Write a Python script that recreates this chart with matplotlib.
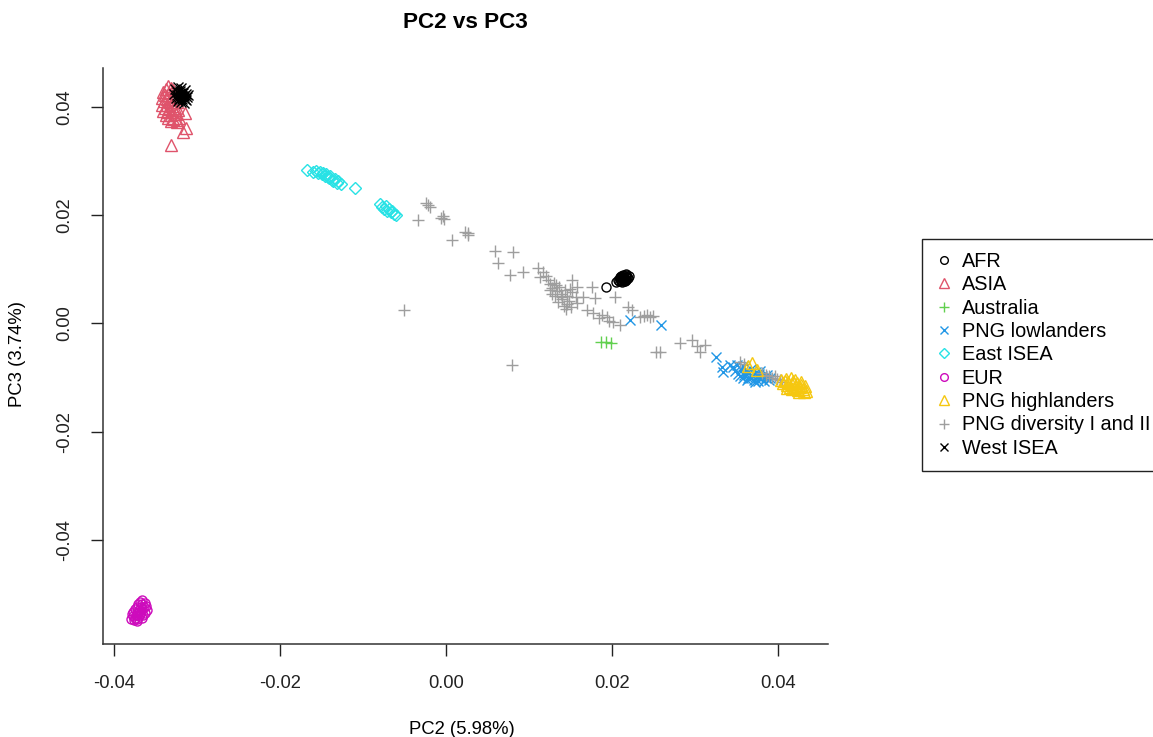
import matplotlib

matplotlib.use("Agg")
import matplotlib.pyplot as plt
from matplotlib.lines import Line2D

plt.rcParams["font.family"] = ["Liberation Sans", "DejaVu Sans"]

# group labels, in legend order
groups = ["AFR", "ASIA", "Australia", "PNG lowlanders", "East ISEA", "EUR",
          "PNG highlanders", "PNG diversity I and II", "West ISEA"]

afr_pc2 = [0.0193, 0.0205, 0.0207, 0.0208, 0.0209, 0.0210, 0.0210, 0.0211, 0.0212, 0.0212,
           0.0213, 0.0214, 0.0214, 0.0215, 0.0216, 0.0216, 0.0217, 0.0218, 0.0219, 0.0220,
           0.0211, 0.0213, 0.0209, 0.0215, 0.0217]
afr_pc3 = [0.0067, 0.0077, 0.0080, 0.0078, 0.0082, 0.0079, 0.0084, 0.0081, 0.0077, 0.0085,
           0.0083, 0.0079, 0.0087, 0.0082, 0.0085, 0.0089, 0.0080, 0.0086, 0.0083, 0.0088,
           0.0088, 0.0090, 0.0086, 0.0078, 0.0091]

asia_pc2 = [-0.0335, -0.0332, -0.0338, -0.0329, -0.0341, -0.0334, -0.0326, -0.0339, -0.0331,
            -0.0342, -0.0336, -0.0328, -0.0340, -0.0333, -0.0325, -0.0342, -0.0337, -0.0330,
            -0.0339, -0.0334, -0.0327, -0.0341, -0.0336, -0.0330, -0.0323, -0.0338, -0.0332,
            -0.0326, -0.0335, -0.0329, -0.0322, -0.0332, -0.0325,
            -0.0325, -0.0315, -0.0313, -0.0317, -0.0332]
asia_pc3 = [0.0438, 0.0435, 0.0432, 0.0430, 0.0427, 0.0426, 0.0424, 0.0421, 0.0420,
            0.0416, 0.0415, 0.0414, 0.0410, 0.0409, 0.0408, 0.0404, 0.0403, 0.0402,
            0.0398, 0.0396, 0.0397, 0.0392, 0.0390, 0.0391, 0.0393, 0.0385, 0.0384,
            0.0386, 0.0379, 0.0378, 0.0380, 0.0373, 0.0372,
            0.0375, 0.0388, 0.0361, 0.0354, 0.0329]

aus_pc2 = [0.0187, 0.0193, 0.0198]
aus_pc3 = [-0.0034, -0.0035, -0.0036]

low_pc2 = [0.0221, 0.0259, 0.0325, 0.0332, 0.0334, 0.0342,
           0.0345, 0.0348, 0.0350, 0.0352, 0.0355, 0.0357, 0.0359, 0.0361, 0.0363, 0.0365,
           0.0367, 0.0369, 0.0371, 0.0373, 0.0375, 0.0377, 0.0379, 0.0381, 0.0383, 0.0385,
           0.0387, 0.0389, 0.0372, 0.0362, 0.0354, 0.0366, 0.0378, 0.0358, 0.0376, 0.0390]
low_pc3 = [0.0006, -0.0003, -0.0062, -0.0081, -0.0090, -0.0077,
           -0.0080, -0.0088, -0.0076, -0.0093, -0.0085, -0.0079, -0.0095, -0.0088, -0.0100,
           -0.0092, -0.0084, -0.0097, -0.0104, -0.0090, -0.0099, -0.0094, -0.0103, -0.0098,
           -0.0106, -0.0101, -0.0096, -0.0104, -0.0108, -0.0104, -0.0098, -0.0101, -0.0087,
           -0.0101, -0.0106, -0.0100]

east_pc2 = [-0.0168, -0.0161, -0.0157, -0.0154, -0.0152, -0.0150, -0.0148, -0.0146, -0.0145,
            -0.0143, -0.0141, -0.0140, -0.0138, -0.0136, -0.0134, -0.0132, -0.0130, -0.0127,
            -0.0110,
            -0.0080, -0.0077, -0.0075, -0.0073, -0.0071, -0.0069, -0.0067, -0.0065, -0.0063,
            -0.0061]
east_pc3 = [0.0284, 0.0280, 0.0282, 0.0277, 0.0280, 0.0275, 0.0278, 0.0272, 0.0275,
            0.0270, 0.0268, 0.0272, 0.0265, 0.0262, 0.0267, 0.0260, 0.0263, 0.0257,
            0.0250,
            0.0220, 0.0215, 0.0212, 0.0217, 0.0208, 0.0211, 0.0205, 0.0207, 0.0202,
            0.0200]

eur_pc2 = [-0.0380, -0.0378, -0.0376, -0.0379, -0.0375, -0.0373, -0.0377, -0.0374, -0.0372,
           -0.0370, -0.0375, -0.0372, -0.0369, -0.0367, -0.0373, -0.0370, -0.0368, -0.0365,
           -0.0371, -0.0368, -0.0366, -0.0363, -0.0369, -0.0366, -0.0364, -0.0361, -0.0367,
           -0.0363, -0.0362, -0.0371]
eur_pc3 = [-0.0546, -0.0541, -0.0548, -0.0536, -0.0543, -0.0550, -0.0532, -0.0538, -0.0545,
           -0.0541, -0.0528, -0.0534, -0.0537, -0.0544, -0.0524, -0.0529, -0.0533, -0.0539,
           -0.0518, -0.0523, -0.0528, -0.0534, -0.0514, -0.0518, -0.0524, -0.0530, -0.0511,
           -0.0516, -0.0522, -0.0535]

high_pc2 = [0.0363, 0.0368, 0.0374,
            0.0403, 0.0406, 0.0408, 0.0410, 0.0412, 0.0414, 0.0416, 0.0418, 0.0419, 0.0421,
            0.0423, 0.0424, 0.0426, 0.0428, 0.0430, 0.0432, 0.0434, 0.0411, 0.0417, 0.0425,
            0.0409, 0.0420, 0.0427, 0.0415, 0.0431]
high_pc3 = [-0.0079, -0.0074, -0.0086,
            -0.0104, -0.0110, -0.0106, -0.0114, -0.0109, -0.0117, -0.0112, -0.0106, -0.0120,
            -0.0115, -0.0110, -0.0123, -0.0118, -0.0113, -0.0121, -0.0116, -0.0124, -0.0119,
            -0.0122, -0.0126, -0.0102, -0.0104, -0.0108, -0.0101, -0.0126]

div_pc2 = [-0.0025, -0.0022, -0.0020, -0.0034, -0.0006, -0.0004, -0.0003, 0.0007, 0.0022,
           0.0026, 0.0026, 0.0059, 0.0080, 0.0062, 0.0077, 0.0093, 0.0110, 0.0117, 0.0113,
           0.0120, -0.0051, 0.0079,
           0.0122, 0.0125, 0.0128, 0.0130, 0.0133, 0.0127, 0.0131, 0.0136, 0.0138, 0.0140,
           0.0135, 0.0143, 0.0145, 0.0142, 0.0148, 0.0150, 0.0152, 0.0156, 0.0158, 0.0144,
           0.0125, 0.0132, 0.0139, 0.0146, 0.0149, 0.0152, 0.0157,
           0.0165, 0.0176, 0.0179, 0.0170, 0.0177, 0.0188, 0.0194, 0.0201, 0.0209, 0.0203,
           0.0219, 0.0224, 0.0233, 0.0238, 0.0242, 0.0245, 0.0249, 0.0184, 0.0196,
           0.0253, 0.0257, 0.0282, 0.0296, 0.0302, 0.0312, 0.0306, 0.0354, 0.0359,
           0.0380, 0.0385, 0.0389, 0.0392, 0.0396, 0.0398, 0.0402, 0.0405]
div_pc3 = [0.0222, 0.0218, 0.0214, 0.0191, 0.0195, 0.0198, 0.0193, 0.0154, 0.0169,
           0.0163, 0.0167, 0.0134, 0.0132, 0.0111, 0.0089, 0.0094, 0.0102, 0.0094, 0.0085,
           0.0088, 0.0025, -0.0077,
           0.0080, 0.0072, 0.0066, 0.0075, 0.0060, 0.0055, 0.0050, 0.0068, 0.0055, 0.0045,
           0.0040, 0.0062, 0.0050, 0.0033, 0.0042, 0.0030, 0.0058, 0.0049, 0.0037, 0.0027,
           0.0062, 0.0070, 0.0048, 0.0036, 0.0064, 0.0080, 0.0067,
           0.0049, 0.0067, 0.0047, 0.0025, 0.0019, 0.0015, 0.0012, 0.0002, -0.0003, 0.0049,
           0.0030, 0.0025, 0.0012, 0.0014, 0.0015, 0.0012, 0.0013, 0.0010, 0.0004,
           -0.0053, -0.0053, -0.0036, -0.0031, -0.0042, -0.0039, -0.0053, -0.0071, -0.0075,
           -0.0092, -0.0095, -0.0098, -0.0100, -0.0097, -0.0103, -0.0105, -0.0108]

west_pc2 = [-0.0327, -0.0323, -0.0319, -0.0315, -0.0325, -0.0321, -0.0317, -0.0313, -0.0328,
            -0.0324, -0.0320, -0.0316, -0.0312, -0.0326, -0.0322, -0.0318, -0.0314, -0.0323,
            -0.0319, -0.0316, -0.0320, -0.0318, -0.0322, -0.0315, -0.0311]
west_pc3 = [0.0433, 0.0436, 0.0434, 0.0430, 0.0428, 0.0429, 0.0426, 0.0424, 0.0423,
            0.0421, 0.0422, 0.0419, 0.0418, 0.0416, 0.0415, 0.0414, 0.0412, 0.0410,
            0.0408, 0.0406, 0.0425, 0.0420, 0.0418, 0.0415, 0.0421]

# R default palette and pch 1..5 recycled
colors = ["#000000", "#DF536B", "#61D04F", "#2297E6", "#28E2E5", "#CD0BBC",
          "#F5C710", "#9E9E9E", "#000000"]
markers = ["o", "^", "+", "x", "D", "o", "^", "+", "x"]
sizes = [6.5, 8, 8.5, 7, 6.5, 6.5, 8, 8.5, 7]

data = {
    "AFR": (afr_pc2, afr_pc3),
    "ASIA": (asia_pc2, asia_pc3),
    "Australia": (aus_pc2, aus_pc3),
    "PNG lowlanders": (low_pc2, low_pc3),
    "East ISEA": (east_pc2, east_pc3),
    "EUR": (eur_pc2, eur_pc3),
    "PNG diversity I and II": (div_pc2, div_pc3),
    "PNG highlanders": (high_pc2, high_pc3),
    "West ISEA": (west_pc2, west_pc3),
}

fig = plt.figure(figsize=(11.53, 7.37), dpi=100)
ax = fig.add_axes([0.0893, 0.1266, 0.6288, 0.7811])

style = {g: (c, m, s) for g, c, m, s in zip(groups, colors, markers, sizes)}
for g, (xs, ys) in data.items():
    c, m, s = style[g]
    ax.plot(xs, ys, linestyle="none", marker=m, markersize=s, markerfacecolor="none",
            markeredgecolor=c, markeredgewidth=1.0)

ax.set_xlim(-0.04136, 0.04599)
ax.set_ylim(-0.05913, 0.04714)
ax.set_xticks([-0.04, -0.02, 0.00, 0.02, 0.04])
ax.set_yticks([-0.04, -0.02, 0.00, 0.02, 0.04])
ax.set_xticklabels(["-0.04", "-0.02", "0.00", "0.02", "0.04"])
ax.set_yticklabels(["-0.04", "-0.02", "0.00", "0.02", "0.04"], rotation=90, va="center")
ax.tick_params(direction="out", length=8.5, width=1, labelsize=13.2, pad=14, colors="#222222")
ax.tick_params(axis="y", pad=13)
for side in ["top", "right"]:
    ax.spines[side].set_visible(False)
for side in ["left", "bottom"]:
    ax.spines[side].set_color("#333333")
    ax.spines[side].set_linewidth(1.1)

fig.text(465.5 / 1153, 1 - 23 / 737, "PC2 vs PC3", ha="center", va="center",
         fontsize=16.2, fontweight="bold")
fig.text(462 / 1153, 1 - 729 / 737, "PC2 (5.98%)", ha="center", va="center", fontsize=13.3)
fig.text(18 / 1153, 1 - 354 / 737, "PC3 (3.74%)", ha="center", va="center", fontsize=13.3,
         rotation=90)

handles = [Line2D([], [], linestyle="none", marker=m, markersize=s * 0.85, markerfacecolor="none",
                  markeredgecolor=c, markeredgewidth=1.0)
           for c, m, s in zip(colors, markers, sizes)]
leg = fig.legend(handles, groups, loc="upper left", bbox_to_anchor=(922 / 1153, 1 - 239 / 737),
                 borderaxespad=0, fontsize=14.3, frameon=True, fancybox=False, framealpha=1,
                 edgecolor="#222222", handlelength=0.9, handletextpad=0.45, labelspacing=0.22,
                 borderpad=0.65)
leg.get_frame().set_linewidth(1.0)

fig.savefig("out.png", dpi=100)
